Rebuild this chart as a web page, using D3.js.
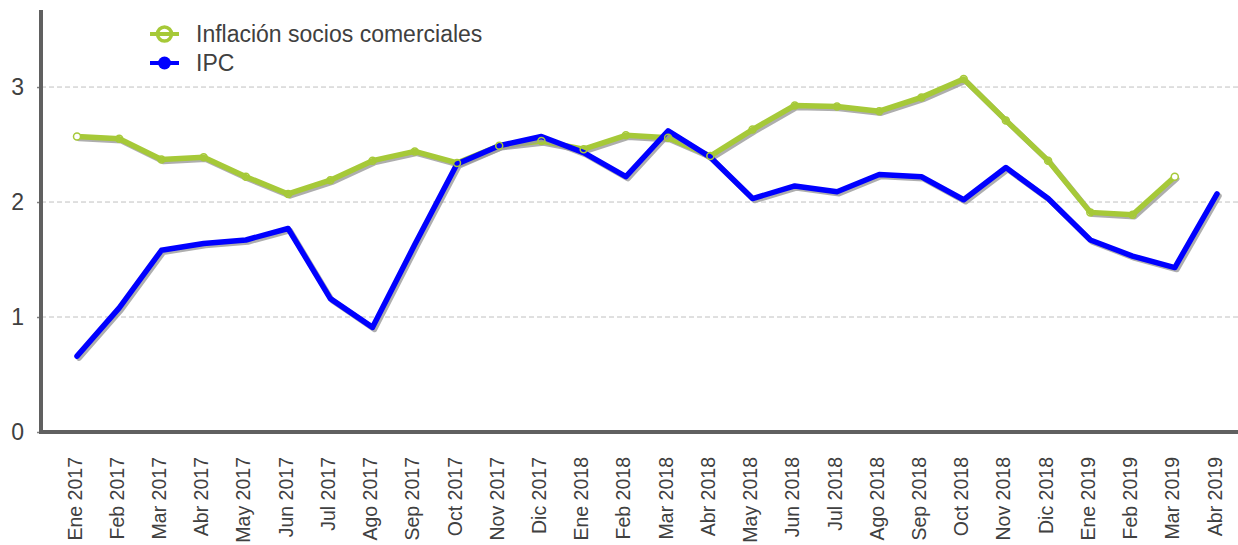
<!DOCTYPE html>
<html><head><meta charset="utf-8">
<script src="https://cdn.jsdelivr.net/npm/d3@7"></script>
<style>body{margin:0;background:#fff}svg{display:block;font-family:"Liberation Sans",Arial,sans-serif}</style>
</head><body><svg id="c" width="1238" height="545"></svg>
<script>
const categories = ["Ene 2017","Feb 2017","Mar 2017","Abr 2017","May 2017","Jun 2017","Jul 2017","Ago 2017","Sep 2017","Oct 2017","Nov 2017","Dic 2017",
 "Ene 2018","Feb 2018","Mar 2018","Abr 2018","May 2018","Jun 2018","Jul 2018","Ago 2018","Sep 2018","Oct 2018","Nov 2018","Dic 2018",
 "Ene 2019","Feb 2019","Mar 2019","Abr 2019"];
const socios = [2.57,2.55,2.37,2.39,2.22,2.07,2.19,2.36,2.44,2.34,2.49,2.53,2.46,2.58,2.56,2.40,2.63,2.84,2.83,2.79,2.91,3.07,2.71,2.36,1.91,1.89,2.22,null];
const ipc = [0.66,1.08,1.58,1.64,1.67,1.77,1.16,0.91,1.63,2.33,2.49,2.57,2.43,2.22,2.62,2.39,2.03,2.14,2.09,2.24,2.22,2.02,2.30,2.03,1.67,1.53,1.43,2.07];
const yTicks = [0,1,2,3];
const seriesNames = ["Inflación socios comerciales","IPC"];

const svg = d3.select("#c");
const x = d3.scalePoint().domain(categories).range([77,1217]);
const y = d3.scaleLinear().domain([0,3.67]).range([432,10]);

// gridlines
svg.append("g").selectAll("line").data(yTicks.filter(d=>d>0)).join("line")
  .attr("x1",41).attr("x2",1238).attr("y1",d=>y(d)).attr("y2",d=>y(d))
  .attr("stroke","#c0c0c0").attr("stroke-width",1).attr("stroke-dasharray","5,3");

// y axis
const ya = svg.append("g").attr("transform","translate(41,0)")
  .call(d3.axisLeft(y).tickValues(yTicks).tickSize(4).tickPadding(13).tickFormat(d3.format("d")));
ya.select(".domain").remove();
ya.selectAll(".tick line").attr("stroke","#808080").attr("stroke-width",1.5);
ya.selectAll(".tick text").attr("font-size",23).attr("fill","#404040").attr("font-family","Liberation Sans, Arial, sans-serif");

// x axis labels
const xa = svg.append("g").attr("transform","translate(0,432)")
  .call(d3.axisBottom(x).tickSize(0).tickPadding(0));
xa.select(".domain").remove();
xa.selectAll(".tick text")
  .attr("font-size",19.5).attr("fill","#404040").attr("font-weight","normal").attr("font-family","Liberation Sans, Arial, sans-serif")
  .attr("text-anchor","end").attr("dy",null).attr("y",0)
  .attr("transform","translate(4,25) rotate(-90)");

// axis lines
svg.append("line").attr("x1",41).attr("x2",41).attr("y1",10).attr("y2",434).attr("stroke","#606060").attr("stroke-width",4);
svg.append("line").attr("x1",39).attr("x2",1238).attr("y1",432).attr("y2",432).attr("stroke","#606060").attr("stroke-width",4);

const line2 = d3.line().defined(d=>d[1]!=null).x(d=>x(d[0])).y(d=>y(d[1]));
const sData = categories.map((c,i)=>[c,socios[i]]);
const iData = categories.map((c,i)=>[c,ipc[i]]);
const green = "#a6c938", blue = "#0000ff";

function drawSeries(data,color){
  svg.append("path").datum(data).attr("d",line2).attr("fill","none")
    .attr("stroke","#9a9a9a").attr("stroke-opacity",0.8).attr("stroke-width",5.5)
    .attr("stroke-linejoin","round").attr("stroke-linecap","round")
    .attr("transform","translate(2,2)");
  svg.append("path").datum(data).attr("d",line2).attr("fill","none")
    .attr("stroke",color).attr("stroke-width",5.5)
    .attr("stroke-linejoin","round").attr("stroke-linecap","round");
}
drawSeries(sData,green);
drawSeries(iData,blue);
const mk = svg.append("g");
mk.selectAll("circle").data(sData.filter(d=>d[1]!=null)).join("circle")
  .attr("cx",d=>x(d[0])).attr("cy",d=>y(d[1])).attr("r",3.5)
  .attr("fill","none").attr("stroke",green).attr("stroke-width",1.5);
mk.selectAll("circle").filter((d,i,n)=>i===0||i===n.length-1).attr("fill","#fff");

// legend
const lg = svg.append("g");
const items = [{name:seriesNames[0],color:green,y:34,hollow:true},{name:seriesNames[1],color:blue,y:63,hollow:false}];
items.forEach(it=>{
  lg.append("line").attr("x1",150).attr("x2",179).attr("y1",it.y).attr("y2",it.y).attr("stroke",it.color).attr("stroke-width",4);
  lg.append("circle").attr("cx",164.5).attr("cy",it.y).attr("r",it.hollow?7:6.5)
    .attr("fill",it.hollow?"none":it.color).attr("stroke",it.color).attr("stroke-width",it.hollow?3.5:0);
  lg.append("text").attr("x",196).attr("y",it.y).attr("dy","0.35em").attr("font-size",23).attr("fill","#404040").text(it.name);
});
</script></body></html>
